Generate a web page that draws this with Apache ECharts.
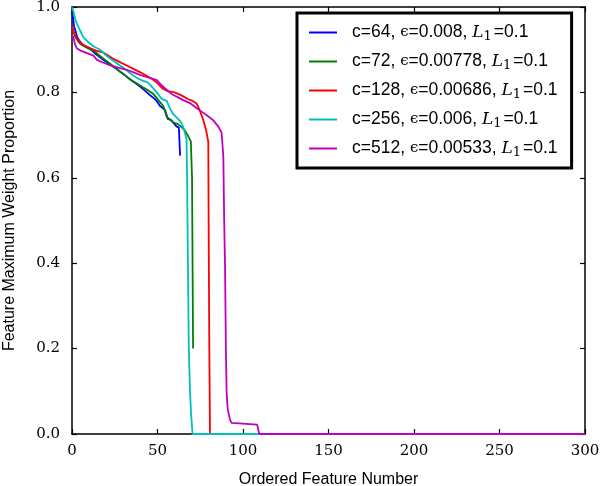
<!DOCTYPE html>
<html>
<head>
<meta charset="utf-8">
<script src="https://cdn.jsdelivr.net/npm/echarts@6/dist/echarts.min.js"></script>
<style>html,body{margin:0;padding:0;background:#fff;}#c{width:601px;height:486px;}</style>
</head>
<body>
<div id="c"></div>
<script>
// Series data: [feature index, max weight proportion]
const c64 = [[0,0.99],[0.6,0.975],[1.2,0.955],[2,0.945],[3,0.93],[4.5,0.92],[6,0.912],[8,0.908],[10.5,0.902],[13,0.893],[16.4,0.882],[19,0.874],[22,0.866],[25,0.858],[28,0.849],[31,0.84],[34,0.83],[37,0.822],[40,0.813],[43,0.803],[45.5,0.794],[48,0.786],[49.5,0.78],[51.5,0.768],[54.4,0.759],[56,0.738],[58,0.735],[61.2,0.72],[62.5,0.718],[62.8,0.69],[63.2,0.652]];
const c72 = [[0,0.955],[0.8,0.945],[2,0.93],[3.5,0.92],[4.7,0.914],[7,0.908],[10,0.902],[12.5,0.898],[15,0.89],[18,0.88],[21,0.871],[24,0.862],[28,0.849],[32,0.837],[35,0.828],[38,0.821],[41.5,0.812],[44,0.806],[47.4,0.797],[50.5,0.782],[53.4,0.768],[55.5,0.742],[57,0.738],[59,0.73],[61.2,0.727],[63.2,0.722],[66,0.711],[68,0.697],[69.5,0.685],[70.2,0.6],[70.5,0.4],[70.8,0.2]];
const c128 = [[0,0.955],[0.8,0.942],[2,0.93],[3.5,0.922],[4.7,0.917],[7,0.91],[10.5,0.904],[14,0.898],[18,0.894],[21,0.887],[24,0.879],[28,0.871],[32,0.863],[36,0.855],[40,0.847],[43.7,0.839],[47,0.831],[49.6,0.823],[51.5,0.815],[53.4,0.808],[56,0.803],[60,0.8],[64,0.793],[68,0.784],[70.5,0.78],[72.9,0.774],[74.5,0.76],[76.8,0.735],[78.5,0.71],[79.7,0.684],[79.9,0.5],[80.3,0.2],[80.7,0],[128,0]];
const c256 = [[0,1.0],[0.8,0.99],[2,0.97],[3.5,0.955],[4.7,0.945],[6.5,0.93],[9.5,0.918],[12.5,0.908],[16.4,0.9],[19,0.89],[22,0.88],[26,0.869],[30,0.858],[34,0.845],[38,0.834],[41,0.828],[44.4,0.823],[47,0.812],[49.6,0.8],[52.4,0.785],[55.4,0.78],[57,0.765],[59,0.75],[61,0.742],[63,0.734],[64.5,0.725],[66,0.706],[67,0.69],[67.3,0.6],[67.8,0.4],[68.3,0.2],[69,0.1],[69.6,0.05],[70.5,0],[256,0]];
const c512 = [[0,0.935],[0.8,0.93],[1.8,0.912],[2.9,0.903],[5,0.898],[8.8,0.892],[12.5,0.886],[14.6,0.876],[18,0.87],[22,0.864],[27,0.858],[32,0.853],[36,0.847],[39.7,0.841],[44,0.836],[49.6,0.829],[52,0.818],[55.5,0.806],[58,0.797],[61.2,0.79],[65,0.782],[69,0.775],[72,0.766],[75.8,0.755],[79,0.746],[82.5,0.735],[85.6,0.72],[87.5,0.705],[88.5,0.65],[89,0.5],[89.5,0.39],[90,0.2],[90.4,0.1],[91,0.06],[92.4,0.033],[93.3,0.026],[94.3,0.024],[108.3,0.022],[109.5,0],[300,0]];

const seriesNames = ['c=64', 'c=72', 'c=128', 'c=256', 'c=512'];
const epsilons = ['0.008', '0.00778', '0.00686', '0.006', '0.00533'];
const l1Values = ['0.1', '0.1', '0.1', '0.1', '0.1'];
const seriesData = [c64, c72, c128, c256, c512];
const colors = ['#0000ff', '#008000', '#ff0000', '#00bfbf', '#bf00bf'];
const xTicks = [0, 50, 100, 150, 200, 250, 300];
const yTicks = [0.0, 0.2, 0.4, 0.6, 0.8, 1.0];

const chart = echarts.init(document.getElementById('c'));
const serif = 'DejaVu Serif';
const sans = 'Liberation Sans';

function legendLabel(name) {
  const i = seriesNames.indexOf(name);
  return '{sp|}{s|' + name + ', }{e|ϵ}{s|=' + epsilons[i] + ', }{L|L}{sub|1}{s|=' + l1Values[i] + '}';
}

const axisCommon = {
  type: 'value',
  axisLine: { show: true, onZero: false, lineStyle: { color: '#000', width: 1.5 } },
  axisTick: { show: true, inside: true, length: 5, lineStyle: { color: '#000', width: 1.2 } },
  splitLine: { show: false },
};

chart.setOption({
  animation: false,
  backgroundColor: '#fff',
  color: colors,
  grid: { left: 72, right: 16, top: 7, bottom: 52, containLabel: false, outerBoundsMode: 'none' },
  legend: {
    orient: 'vertical',
    left: 297, top: 13,
    padding: [9, 14, 9, 12],
    icon: 'rect',
    itemWidth: 28, itemHeight: 2, itemGap: 8,
    borderColor: '#000', borderWidth: 3, backgroundColor: '#fff',
    data: seriesNames,
    formatter: legendLabel,
    textStyle: {
      lineHeight: 20,
      rich: {
        sp: { width: 10 },
        s: { fontFamily: sans, fontSize: 17.5, color: '#000', lineHeight: 20 },
        e: { fontFamily: serif, fontSize: 15, color: '#000', lineHeight: 20 },
        L: { fontFamily: serif, fontStyle: 'italic', fontSize: 17, color: '#000', lineHeight: 20 },
        sub: { fontFamily: serif, fontSize: 13, color: '#000', lineHeight: 20, padding: [8, 2, 0, 0] }
      }
    }
  },
  xAxis: [
    Object.assign({}, axisCommon, {
      min: 0, max: 300, interval: 50, position: 'bottom',
      name: 'Ordered Feature Number', nameLocation: 'middle', nameGap: 38,
      nameTextStyle: { fontFamily: sans, fontSize: 16, color: '#000' },
      axisLabel: { fontFamily: serif, fontSize: 15, color: '#000', margin: 10,
        formatter: v => xTicks.includes(v) ? String(v) : '' }
    }),
    Object.assign({}, axisCommon, {
      min: 0, max: 300, interval: 50, position: 'top', axisLabel: { show: false }
    })
  ],
  yAxis: [
    Object.assign({}, axisCommon, {
      min: 0, max: 1, interval: 0.2, position: 'left',
      name: 'Feature Maximum Weight Proportion', nameLocation: 'middle', nameGap: 54,
      nameTextStyle: { fontFamily: sans, fontSize: 16, color: '#000' },
      axisLabel: { fontFamily: serif, fontSize: 15, color: '#000', margin: 12,
        formatter: v => yTicks.some(t => Math.abs(t - v) < 1e-9) ? v.toFixed(1) : '' }
    }),
    Object.assign({}, axisCommon, {
      min: 0, max: 1, interval: 0.2, position: 'right', axisLabel: { show: false }
    })
  ],
  series: seriesData.map((d, i) => ({
    name: seriesNames[i],
    type: 'line',
    data: d,
    showSymbol: false,
    symbol: 'none',
    clip: true,
    lineStyle: { width: 1.8, color: colors[i] },
    itemStyle: { color: colors[i] },
    z: 3 + i
  }))
});
</script>
</body>
</html>
